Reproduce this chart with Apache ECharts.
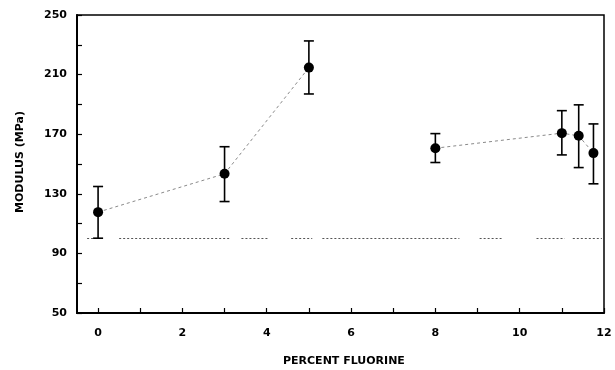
<!DOCTYPE html>
<html>
<head>
<meta charset="utf-8">
<script src="https://cdn.jsdelivr.net/npm/echarts@6/dist/echarts.min.js"></script>
<style>
  html, body { margin: 0; padding: 0; background: #fff; }
  #chart { width: 615px; height: 370px; }
</style>
</head>
<body>
<div id="chart"></div>
<script>
// Fluorine content (%) and measured modulus (MPa) with error-bar limits
const fluorine = [0, 3, 5, 8, 11, 11.4, 11.75];
const modulus  = [117.7, 143.4, 214.7, 160.6, 170.7, 168.9, 157.3];
const errHigh  = [134.9, 161.6, 232.6, 170.4, 185.8, 189.7, 176.9];
const errLow   = [100.2, 124.8, 197.0, 151.0, 156.1, 147.6, 136.7];

// Points are joined in two runs: 0–5 % and 8–11.75 %
const runs = [[0, 3], [3, 7]];

// Baseline (unfilled reference) drawn as broken dotted segments
const baselineValue = 100;
const baselineSegments = [[-0.26, 0.1], [0.5, 3.15], [3.4, 4.06], [4.58, 5.08],
                          [5.32, 8.57], [9.05, 9.57], [10.4, 11.07], [11.26, 11.95]];

// Axis ticks and labels
const xTicks  = [0, 1, 2, 3, 4, 5, 6, 7, 8, 9, 10, 11, 12];
const xLabels = [0, 2, 4, 6, 8, 10, 12];
const yTicks  = [50, 70, 90, 110, 130, 150, 170, 190, 210, 230, 250];
const yLabels = [50, 90, 130, 170, 210, 250];

const FONT = 'DejaVu Sans';

const baselineData = [];
baselineSegments.forEach(function (s, i) {
  if (i > 0) baselineData.push([s[0], '-']);
  baselineData.push([s[0], baselineValue], [s[1], baselineValue]);
});

const lineSeries = runs.map(function (r) {
  const pts = [];
  for (let i = r[0]; i < r[1]; i++) pts.push([fluorine[i], modulus[i]]);
  return {
    type: 'line', data: pts, symbol: 'none', z: 2,
    lineStyle: { color: '#8a8a8a', width: 1, type: [3, 3] }
  };
});

const chart = echarts.init(document.getElementById('chart'), null, { renderer: 'canvas' });

chart.setOption({
  backgroundColor: '#fff',
  animation: false,
  grid: { left: 77, right: 11, top: 15, bottom: 57, show: true,
          borderColor: '#000', borderWidth: 1.5, backgroundColor: 'transparent' },
  xAxis: {
    type: 'value', min: -0.5, max: 12,
    axisLine: { show: true, onZero: false, lineStyle: { color: '#000', width: 2 } },
    axisTick: { show: true, inside: true, length: 5, customValues: xTicks,
                lineStyle: { color: '#000', width: 1.2 } },
    axisLabel: { customValues: xLabels, color: '#000', fontFamily: FONT,
                 fontWeight: 'bold', fontSize: 11, margin: 15 },
    splitLine: { show: false }
  },
  yAxis: {
    type: 'value', min: 50, max: 250,
    axisLine: { show: true, onZero: false, lineStyle: { color: '#000', width: 2 } },
    axisTick: { show: true, inside: true, length: 5, customValues: yTicks,
                lineStyle: { color: '#000', width: 1.2 } },
    axisLabel: { customValues: yLabels, color: '#000', fontFamily: FONT,
                 fontWeight: 'bold', fontSize: 11, margin: 10 },
    splitLine: { show: false }
  },
  graphic: [
    { type: 'text', left: 345 - 62, top: 356,
      style: { text: 'PERCENT FLUORINE', fill: '#000', font: 'bold 11px "DejaVu Sans"' } },
    { type: 'text', x: 20, y: 162, rotation: Math.PI / 2,
      style: { text: 'MODULUS (MPa)', fill: '#000', font: 'bold 11px "DejaVu Sans"',
               align: 'center', verticalAlign: 'middle' } }
  ],
  series: [
    {
      type: 'line', data: baselineData, symbol: 'none', z: 1, connectNulls: false,
      lineStyle: { color: '#555', width: 1, type: [2, 2] }
    }
  ].concat(lineSeries).concat([
    {
      type: 'custom', z: 3,
      data: fluorine.map(function (x, i) { return [x, errLow[i], errHigh[i]]; }),
      renderItem: function (params, api) {
        const lo = api.coord([api.value(0), api.value(1)]);
        const hi = api.coord([api.value(0), api.value(2)]);
        const w = 5;
        const st = { stroke: '#000', lineWidth: 1.6 };
        return {
          type: 'group',
          children: [
            { type: 'line', shape: { x1: lo[0], y1: lo[1], x2: hi[0], y2: hi[1] }, style: st },
            { type: 'line', shape: { x1: lo[0] - w, y1: lo[1], x2: lo[0] + w, y2: lo[1] }, style: st },
            { type: 'line', shape: { x1: hi[0] - w, y1: hi[1], x2: hi[0] + w, y2: hi[1] }, style: st }
          ]
        };
      }
    },
    {
      type: 'scatter', z: 4, symbol: 'circle', symbolSize: 10,
      data: fluorine.map(function (x, i) { return [x, modulus[i]]; }),
      itemStyle: { color: '#000', opacity: 1 }
    }
  ])
});
</script>
</body>
</html>
